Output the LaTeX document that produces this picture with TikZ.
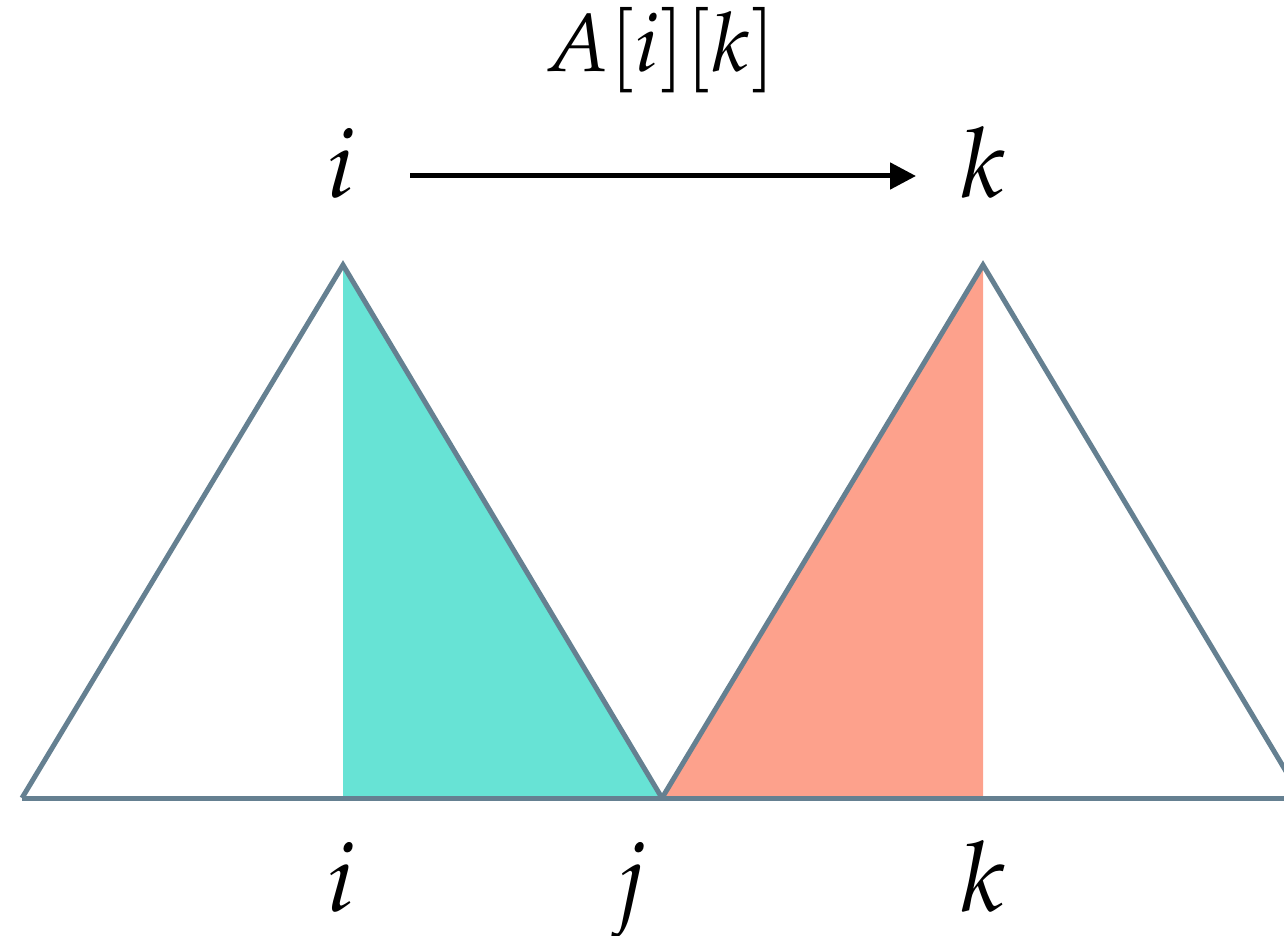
\documentclass[tikz,border=0pt]{standalone}
\usepackage{mathpazo}
\usetikzlibrary{arrows.meta}
\definecolor{teal1}{RGB}{103,227,213}
\definecolor{salmon1}{RGB}{253,161,140}
\definecolor{edge1}{RGB}{101,128,145}
\begin{document}
\begin{tikzpicture}[x=1pt,y=-1pt,
  lbl/.style={inner sep=0pt,anchor=base,font=\fontsize{97}{100}\selectfont},
  ttl/.style={inner sep=0pt,anchor=base,font=\fontsize{82}{90}\selectfont},
  tri/.style={draw=edge1,line width=5pt,line join=miter}]
\useasboundingbox (0,0) rectangle (1284,936);
\begin{scope}
\clip (0,0) rectangle (1284,936);
% fills
\fill[teal1] (343,265) -- (662,798) -- (343,798) -- cycle;
\fill[salmon1] (983,265) -- (983,798) -- (662,798) -- cycle;
% triangles
\draw[tri] (22,798) -- (343,265) -- (662,798);
\draw[tri] (662,798) -- (983,265) -- (1302,798);
\draw[tri] (22,798) -- (1290,798);
\end{scope}
% labels
\node[ttl] (title) at (660,72) {$A[i][k]$};
\node[lbl] (ti) at (342,197) {$i$};
\node[lbl] (tk) at (983,197) {$k$};
\node[lbl] (bi) at (342,911) {$i$};
\node[lbl] (bj) at (630,911) {$j$};
\node[lbl] (bk) at (983,911) {$k$};
\coordinate (as) at (410,176);
\coordinate (ae) at (916,176);
\draw[line width=5pt,-{Triangle[length=26pt,width=26pt]}] (as) -- (ae);
\end{tikzpicture}
\end{document}
